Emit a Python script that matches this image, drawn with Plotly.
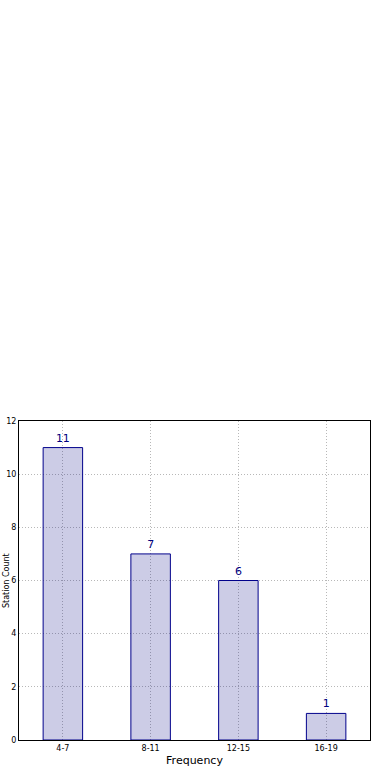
import plotly.graph_objects as go

categories = ["4-7", "8-11", "12-15", "16-19"]
counts = [11, 7, 6, 1]
y_ticks = [0, 2, 4, 6, 8, 10, 12]

fig = go.Figure()
fig.add_trace(go.Bar(
    x=categories, y=counts, width=0.45,
    marker=dict(color="rgba(0,0,128,0.2)", line=dict(color="#00008b", width=1)),
    text=[str(c) for c in counts], textposition="outside",
    textfont=dict(color="#000080", size=11, family="DejaVu Sans"),
    cliponaxis=False,
))

fig.update_layout(
    width=390, height=780,
    margin=dict(l=19, r=20, t=421, b=40),
    plot_bgcolor="white", paper_bgcolor="white",
    showlegend=False,
    font=dict(family="DejaVu Sans", color="black"),
)
fig.update_xaxes(
    range=[-0.5, 3.5], showline=True, linecolor="black", linewidth=1, mirror=True,
    showgrid=True, gridcolor="#b8b8b8", griddash="1px,2px", gridwidth=1,
    tickfont=dict(size=8), ticks="", automargin=False,
    title=dict(text="Frequency", font=dict(size=11), standoff=4),
)
fig.update_yaxes(
    range=[0, 12], tickvals=y_ticks, showline=True, linecolor="black", linewidth=1, mirror=True,
    showgrid=True, gridcolor="#b8b8b8", griddash="1px,2px", gridwidth=1,
    tickfont=dict(size=8), ticks="", zeroline=False, automargin=False,
)
fig.add_annotation(
    text="Station Count", xref="paper", yref="paper", x=-0.054, y=0.5,
    textangle=-90, showarrow=False, font=dict(size=8, color="black"),
    xanchor="left", yanchor="middle",
)
fig.write_html("out.html")
